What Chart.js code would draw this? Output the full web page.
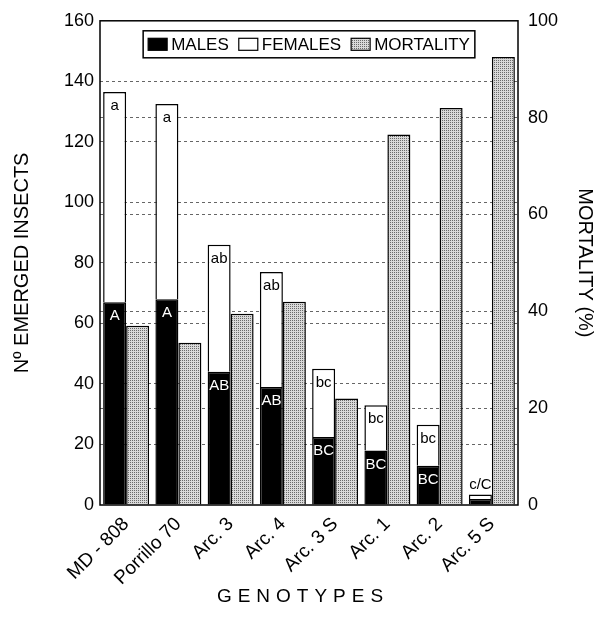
<!DOCTYPE html>
<html>
<head>
<meta charset="utf-8">
<script src="https://cdn.jsdelivr.net/npm/chart.js@4/dist/chart.umd.min.js"></script>
<style>
  html, body { margin: 0; padding: 0; background: #fff; }
  #wrap { width: 608px; height: 635px; }
</style>
</head>
<body>
<div id="wrap"><canvas id="c" width="608" height="635"></canvas></div>
<script>
// Genotypes and measured emergence / mortality
const genotypes = ['MD - 808', 'Porrillo 70', 'Arc. 3', 'Arc. 4', 'Arc. 3 S', 'Arc. 1', 'Arc. 2', 'Arc. 5 S'];
const males     = [67, 68, 44, 39, 22.5, 18, 13, 2];
const females   = [69.5, 64.5, 42, 38, 22.5, 15, 13.5, 1.5];
const mortality = [37, 33.5, 39.5, 42, 22, 76.5, 82, 92.5];

// Significance letters (lowercase: total emergence, uppercase: males)
const femaleLetters   = ['a', 'a', 'ab', 'ab', 'bc', 'bc', 'bc', ''];
const maleLetters     = ['A', 'A', 'AB', 'AB', 'BC', 'BC', 'BC', ''];
const combinedLetters = ['', '', '', '', '', '', '', 'c/C'];

const insectsMax = 160, insectsStep = 20;
const mortalityMax = 100, mortalityStep = 20;

const FONT = '"Liberation Sans", Arial, sans-serif';

// stippled grey fill for the mortality bars
function stipple() {
  const c = document.createElement('canvas');
  c.width = 2; c.height = 2;
  const g = c.getContext('2d');
  g.fillStyle = '#d9d9d9'; g.fillRect(0, 0, 2, 2);
  g.fillStyle = '#6a6a6a'; g.fillRect(0, 0, 1, 1);
  return g.createPattern(c, 'repeat');
}
const mortFill = stipple();

const gridColor = (max) => (ctx) =>
  (ctx.tick && (ctx.tick.value === 0 || ctx.tick.value === max)) ? 'rgba(0,0,0,0)' : '#666';

const letterPlugin = {
  id: 'letters',
  afterDatasetsDraw(chart) {
    const ctx = chart.ctx;
    const mMeta = chart.getDatasetMeta(0);
    const fMeta = chart.getDatasetMeta(1);
    ctx.save();
    ctx.font = '15px ' + FONT;
    ctx.textAlign = 'center';
    ctx.textBaseline = 'middle';
    genotypes.forEach((g, i) => {
      const mb = mMeta.data[i], fb = fMeta.data[i];
      if (femaleLetters[i]) { ctx.fillStyle = '#000'; ctx.fillText(femaleLetters[i], fb.x, fb.y + 14); }
      if (maleLetters[i])   { ctx.fillStyle = '#fff'; ctx.fillText(maleLetters[i], mb.x, mb.y + 14); }
      if (combinedLetters[i]) { ctx.fillStyle = '#000'; ctx.fillText(combinedLetters[i], fb.x, fb.y - 10); }
    });
    ctx.restore();
  }
};

const framePlugin = {
  id: 'frame',
  afterDraw(chart) {
    const { ctx, chartArea: a } = chart;
    ctx.save();
    ctx.strokeStyle = '#000';
    ctx.lineWidth = 1.5;
    ctx.strokeRect(a.left, a.top, a.right - a.left, a.bottom - a.top);

    // legend box
    ctx.font = '17px ' + FONT;
    ctx.textBaseline = 'middle';
    const items = chart.data.datasets.map(d => ({ label: d.label, fill: d.backgroundColor }));
    const sw = 19, sh = 12, gapS = 4, gapI = 10, pad = 5;
    let total = 0;
    items.forEach((it, k) => { it.w = ctx.measureText(it.label).width; total += sw + gapS + it.w + (k < items.length - 1 ? gapI : 0); });
    const boxW = total + pad * 2, boxH = 27;
    const bx = (a.left + a.right) / 2 - boxW / 2, by = a.top + 10;
    ctx.fillStyle = '#fff';
    ctx.fillRect(bx, by, boxW, boxH);
    ctx.lineWidth = 1.5;
    ctx.strokeRect(bx, by, boxW, boxH);
    let x = bx + pad;
    const cy = by + boxH / 2;
    items.forEach(it => {
      ctx.fillStyle = it.fill;
      ctx.fillRect(x, cy - sh / 2, sw, sh);
      ctx.lineWidth = 1.2;
      ctx.strokeRect(x, cy - sh / 2, sw, sh);
      x += sw + gapS;
      ctx.fillStyle = '#000';
      ctx.textAlign = 'left';
      ctx.fillText(it.label, x, cy + 1);
      x += it.w + gapI;
    });

    // category axis title
    ctx.font = '19px ' + FONT;
    ctx.textAlign = 'center';
    ctx.textBaseline = 'middle';
    ctx.letterSpacing = '6px';
    ctx.fillText('GENOTYPES', 303, 597);
    ctx.restore();
  }
};

new Chart(document.getElementById('c'), {
  type: 'bar',
  data: {
    labels: genotypes,
    datasets: [
      { label: 'MALES', data: males, backgroundColor: '#000', borderColor: '#000', borderWidth: 1.5,
        stack: 'emerged', yAxisID: 'y' },
      { label: 'FEMALES', data: females, backgroundColor: '#fff', borderColor: '#000', borderWidth: 1.5,
        stack: 'emerged', yAxisID: 'y' },
      { label: 'MORTALITY', data: mortality, backgroundColor: mortFill, borderColor: '#000', borderWidth: 1.5,
        stack: 'mortality', yAxisID: 'y1' }
    ]
  },
  options: {
    responsive: false,
    animation: false,
    devicePixelRatio: 1,
    categoryPercentage: 0.88,
    barPercentage: 1,
    layout: { padding: { top: 17, left: 0, right: 0, bottom: 0 } },
    plugins: { legend: { display: false }, tooltip: { enabled: false } },
    scales: {
      x: {
        grid: { display: false },
        border: { display: false },
        ticks: { color: '#000', font: { family: FONT, size: 19 }, minRotation: 45, maxRotation: 45, padding: 0 },
        afterFit(s) { s.height = 130; }
      },
      y: {
        position: 'left',
        stacked: true,
        min: 0, max: insectsMax,
        ticks: { stepSize: insectsStep, color: '#000', font: { family: FONT, size: 18 }, padding: 6 },
        grid: { color: gridColor(insectsMax), lineWidth: 1, drawTicks: false },
        border: { display: false, dash: [3, 3] },
        title: { display: true, text: 'Nº EMERGED INSECTS', color: '#000',
                 font: { family: FONT, size: 20 }, padding: { top: 10, bottom: 0 } },
        afterFit(s) { s.width = 100; }
      },
      y1: {
        position: 'right',
        min: 0, max: mortalityMax,
        ticks: { stepSize: mortalityStep, color: '#000', font: { family: FONT, size: 18 }, padding: 10 },
        grid: { color: gridColor(mortalityMax), lineWidth: 1, drawTicks: false },
        border: { display: false, dash: [3, 3] },
        title: { display: true, text: 'MORTALITY (%)', color: '#000',
                 font: { family: FONT, size: 20 }, padding: { top: 11, bottom: 0 } },
        afterFit(s) { s.width = 90; }
      }
    }
  },
  plugins: [letterPlugin, framePlugin]
});
</script>
</body>
</html>
